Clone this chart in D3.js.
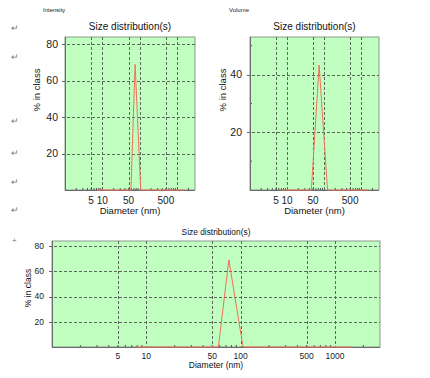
<!DOCTYPE html>
<html>
<head>
<meta charset="utf-8">
<script src="https://cdn.jsdelivr.net/npm/d3@7"></script>
<style>
  body { margin: 0; background: #fff; }
  svg { font-family: "Liberation Sans", Arial, sans-serif; }
</style>
</head>
<body>
<div id="chart"></div>
<script>
// Diameter axis (log) and the two measured distributions
const diameterDomain = [1, 3000];
const xTicks = [5, 10, 50, 100, 500, 1000];
const topXLabels = [5, 10, 50, 500];

const intensitySizes = [7.5, 58, 75, 106, 1500];
const intensityValues = [0, 0, 69, 0, 0];

const volumeSizes = [7, 45, 73, 123, 1500];
const volumeValues = [0, 0, 43.3, 0, 0];

const intensityYTicks = [20, 40, 60, 80];
const volumeYTicks = [20, 40];
const minorYVolume = [10, 30, 50];

const svg = d3.select("#chart")
    .append("svg")
    .attr("width", 430)
    .attr("height", 378);

// minor log ticks 2..9 per decade
const minorXTicks = [];
for (let p = 0; p <= 3; p++) {
    for (let m = 2; m <= 9; m++) {
        const v = m * Math.pow(10, p);
        if (v < diameterDomain[1]) minorXTicks.push(v);
    }
}

function drawPanel(opts) {
    const x = d3.scaleLog()
        .domain(diameterDomain)
        .range([opts.left, opts.right]);

    const y = d3.scaleLinear()
        .domain([0, opts.yMax])
        .range([opts.bottom, opts.top]);

    const g = svg.append("g");

    g.append("rect")
        .attr("x", opts.left)
        .attr("y", opts.top)
        .attr("width", opts.right - opts.left)
        .attr("height", opts.bottom - opts.top)
        .attr("fill", "#c0ffc0")
        .attr("stroke", "#8a9a8a")
        .attr("stroke-width", 1);

    // grid
    g.append("g")
        .selectAll("line")
        .data(xTicks)
        .join("line")
        .attr("x1", d => Math.round(x(d)) + 0.5)
        .attr("x2", d => Math.round(x(d)) + 0.5)
        .attr("y1", opts.top)
        .attr("y2", opts.bottom)
        .attr("stroke", "#5a6a5a")
        .attr("stroke-dasharray", "3,2");

    g.append("g")
        .selectAll("line")
        .data(opts.yTicks)
        .join("line")
        .attr("x1", opts.left - 3)
        .attr("x2", opts.right)
        .attr("y1", d => Math.round(y(d)) + 0.5)
        .attr("y2", d => Math.round(y(d)) + 0.5)
        .attr("stroke", "#5a6a5a")
        .attr("stroke-dasharray", "3,2");

    // minor ticks on the axes
    g.append("g")
        .selectAll("line")
        .data(minorXTicks)
        .join("line")
        .attr("x1", d => x(d))
        .attr("x2", d => x(d))
        .attr("y1", opts.bottom)
        .attr("y2", opts.bottom - 2)
        .attr("stroke", "#555");

    if (opts.minorY) {
        g.append("g")
            .selectAll("line")
            .data(opts.minorY)
            .join("line")
            .attr("x1", opts.left)
            .attr("x2", opts.left + 2)
            .attr("y1", d => y(d))
            .attr("y2", d => y(d))
            .attr("stroke", "#555");
    }

    // axis lines
    g.append("line")
        .attr("x1", opts.left).attr("x2", opts.right)
        .attr("y1", opts.bottom + 0.5).attr("y2", opts.bottom + 0.5)
        .attr("stroke", "#6a6a6a");
    g.append("line")
        .attr("x1", opts.left + 0.5).attr("x2", opts.left + 0.5)
        .attr("y1", opts.top).attr("y2", opts.bottom)
        .attr("stroke", "#6a6a6a");

    // curve
    const line = d3.line()
        .x((d, i) => x(opts.sizes[i]))
        .y(d => y(d));

    g.append("path")
        .datum(opts.values)
        .attr("d", line)
        .attr("fill", "none")
        .attr("stroke", "#f0705a")
        .attr("stroke-width", 1);

    // tick labels
    g.append("g")
        .selectAll("text")
        .data(opts.xLabels)
        .join("text")
        .attr("x", d => x(d))
        .attr("y", opts.bottom + opts.xLabelGap)
        .attr("text-anchor", "middle")
        .attr("font-size", opts.tickSize)
        .attr("fill", "#222")
        .text(d => d);

    g.append("g")
        .selectAll("text")
        .data(opts.yTicks)
        .join("text")
        .attr("x", opts.left - opts.yLabelGap)
        .attr("y", d => y(d))
        .attr("dy", "0.35em")
        .attr("text-anchor", "end")
        .attr("font-size", opts.yTickSize)
        .attr("fill", "#222")
        .text(d => d);

    g.append("text")
        .attr("x", (opts.left + opts.right) / 2)
        .attr("y", opts.titleY)
        .attr("text-anchor", "middle")
        .attr("font-size", opts.titleSize)
        .attr("fill", "#111")
        .text("Size distribution(s)");

    g.append("text")
        .attr("x", (opts.left + opts.right) / 2)
        .attr("y", opts.bottom + opts.xTitleGap)
        .attr("text-anchor", "middle")
        .attr("font-size", opts.labelSize)
        .attr("fill", "#111")
        .text("Diameter (nm)");

    g.append("text")
        .attr("transform", `translate(${opts.yTitleX},${opts.yTitleY}) rotate(-90)`)
        .attr("text-anchor", "middle")
        .attr("dy", "0.35em")
        .attr("font-size", opts.labelSize)
        .attr("fill", "#111")
        .text("% in class");
}

drawPanel({
    left: 65, right: 195, top: 37, bottom: 190, yMax: 84,
    sizes: intensitySizes, values: intensityValues,
    yTicks: intensityYTicks, xLabels: topXLabels,
    tickSize: 10, yTickSize: 10.5, titleSize: 10, labelSize: 9.5,
    xLabelGap: 14, yLabelGap: 7, titleY: 30, xTitleGap: 24,
    yTitleX: 37, yTitleY: 90
});

drawPanel({
    left: 250, right: 379, top: 37, bottom: 190, yMax: 53,
    sizes: volumeSizes, values: volumeValues, minorY: minorYVolume,
    yTicks: volumeYTicks, xLabels: topXLabels,
    tickSize: 10, yTickSize: 10.5, titleSize: 10, labelSize: 9.5,
    xLabelGap: 14, yLabelGap: 8, titleY: 30, xTitleGap: 24,
    yTitleX: 223, yTitleY: 90
});

drawPanel({
    left: 52, right: 380, top: 241, bottom: 347, yMax: 84,
    sizes: intensitySizes, values: intensityValues,
    yTicks: intensityYTicks, xLabels: xTicks,
    tickSize: 8.5, yTickSize: 8.5, titleSize: 8.4, labelSize: 8.5,
    xLabelGap: 12, yLabelGap: 8, titleY: 235, xTitleGap: 21,
    yTitleX: 28, yTitleY: 288
});

// small captions and paragraph marks
svg.append("text").attr("x", 43).attr("y", 12)
    .attr("font-size", 6).attr("fill", "#222").text("Intensity");
svg.append("text").attr("x", 229).attr("y", 12)
    .attr("font-size", 6).attr("fill", "#222").text("Volume");

const markYs = [28, 57, 121, 153, 182, 210];
svg.append("g")
    .selectAll("text")
    .data(markYs)
    .join("text")
    .attr("x", 11)
    .attr("y", d => d + 3)
    .attr("font-size", 9)
    .attr("fill", "#777")
    .text("↵");
svg.append("text").attr("x", 12).attr("y", 243)
    .attr("font-size", 8).attr("fill", "#777").text("+");
</script>
</body>
</html>
